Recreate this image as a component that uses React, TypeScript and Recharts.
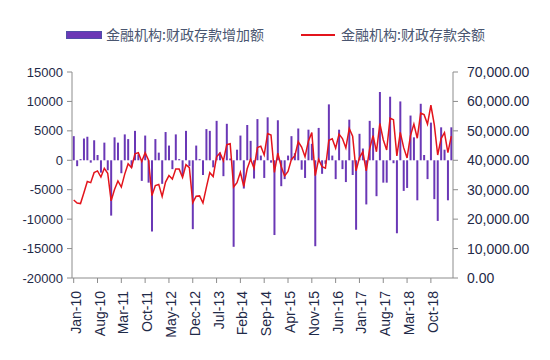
import React from "react";
import { ComposedChart, Bar, Line, XAxis, YAxis } from "recharts";

// month labels Jan-10 .. Apr-19
const monthNames = ["Jan", "Feb", "Mar", "Apr", "May", "Jun", "Jul", "Aug", "Sep", "Oct", "Nov", "Dec"];
const years = ["10", "11", "12", "13", "14", "15", "16", "17", "18", "19"];
const months = years.flatMap((y) => monthNames.map((m) => `${m}-${y}`)).slice(0, 112);

// 金融机构:财政存款增加额 (亿元)
const increase = [
  4100, -1000, 200, 3700, 4000, -400, 3400, 900, -2100, 3000, -1700, -9400,
  3900, 3000, -2200, 4400, 3600, -1200, 5000, 1000, -3500, 4200, -3800, -12100,
  3600, 1300, -4000, 4800, 2500, -1500, 4400, 200, -2600, 5000, -1000, -11700,
  2500, 200, -2500, 5300, 5000, -1200, 6700, 1300, -2700, 6200, 300, -14700,
  1800, 4200, -4800, 6000, 3300, -3100, 7000, 800, -3000, 7300, -400, -12700,
  6800, -4400, -3200, 800, 4100, 1200, 5400, -1600, -3000, 5200, 2800, -14600,
  5500, -2300, -600, 9500, 800, -3200, 5200, -1500, -3700, 6900, -2500, -11800,
  4500, 2000, -7500, 6700, 5500, -6100, 11600, -3800, -3800, 10800, -500, -12400,
  10000, -5200, -4700, 7600, 3900, -6800, 9600, 900, -3200, 6400, -6600, -10300,
  5600, 1800, -6800, 5600,
];

// 金融机构:财政存款余额 (亿元)
const balance = [
  26500, 25500, 25300, 29000, 32800, 32400, 35800, 36400, 34300, 37300, 35600, 26200,
  30100, 33000, 30900, 35300, 38800, 37500, 42200, 42600, 39600, 42600, 40000, 28000,
  31400, 31800, 27700, 32600, 34800, 33600, 37000, 37000, 34200, 38500, 37500, 25600,
  27800, 27900, 25500, 30800, 35800, 34500, 41200, 42500, 39800, 45300, 45600, 30900,
  32400, 35900, 31100, 37100, 40400, 37300, 44300, 44800, 41800, 49100, 48600, 35900,
  42400, 37900, 34700, 36200, 40300, 41500, 46300, 44500, 41200, 46600, 49400, 34800,
  40300, 37800, 37300, 46800, 47300, 44100, 48900, 47400, 44200, 50800, 48200, 36400,
  40900, 42900, 36400, 43900, 48400, 42900, 52500, 47000, 43500, 54300, 53800, 41500,
  49500, 44300, 40800, 48400, 52300, 47500, 56000, 55500, 52300, 58700, 52100, 41800,
  47400, 49400, 42600, 48200,
];

const leftTicks = [-20000, -15000, -10000, -5000, 0, 5000, 10000, 15000];
const rightTicks = [0, 10000, 20000, 30000, 40000, 50000, 60000, 70000];

const barName = "金融机构:财政存款增加额";
const lineName = "金融机构:财政存款余额";

const data = months.map((m, i) => ({ month: m, inc: increase[i], bal: balance[i] }));

const BAR = "#6a38b6";
const LINE = "#e3141c";
const AXIS = "#8c8c8c";
const TXT = "#1f2a48";
const FONT = "'Liberation Sans', Arial, sans-serif";

const XTick = (props: any) => {
  const { x, y, payload } = props;
  return (
    <g transform={`translate(${x + 7},${y + 8})`}>
      <text transform="rotate(-90)" textAnchor="end" fontSize={14} fill={TXT} fontFamily={FONT}>
        {payload.value}
      </text>
    </g>
  );
};

const fmtRight = (v: number) =>
  v.toLocaleString("en-US", { minimumFractionDigits: 2, maximumFractionDigits: 2 });

const LegendBox = () => (
  <div style={{ position: "absolute", left: 0, top: 24, height: 20, width: 550, fontFamily: "'Noto Sans CJK SC', sans-serif", fontSize: 14, color: "#4a5670" }}>
    <div style={{ position: "absolute", left: 66, top: 7, width: 36, height: 8, background: BAR, border: "1px solid #4f4fa8", boxSizing: "border-box" }} />
    <div style={{ position: "absolute", left: 106, top: 0, lineHeight: "20px", whiteSpace: "nowrap" }}>{barName}</div>
    <div style={{ position: "absolute", left: 301, top: 10, width: 34, height: 2, background: LINE }} />
    <div style={{ position: "absolute", left: 341, top: 0, lineHeight: "20px", whiteSpace: "nowrap" }}>{lineName}</div>
  </div>
);

export default function App() {
  return (
    <div style={{ position: "absolute", left: 0, top: 0, width: 550, height: 360, background: "#fff" }}>
      <LegendBox />
      <ComposedChart
        width={550}
        height={360}
        data={data}
        margin={{ top: 72, right: 0, bottom: 0, left: 0 }}
        barCategoryGap="22%"
      >
        <XAxis
          dataKey="month"
          interval={6}
          height={82}
          tick={<XTick />}
          tickSize={5}
          tickMargin={0}
          stroke={AXIS}
          tickLine={{ stroke: AXIS }}
        />
        <YAxis
          yAxisId="left"
          width={72}
          domain={[-20000, 15000]}
          ticks={leftTicks}
          interval={0}
          tickSize={5}
          tickMargin={4}
          stroke={AXIS}
          tick={{ fill: TXT, fontSize: 13, fontFamily: FONT }}
        />
        <YAxis
          yAxisId="right"
          orientation="right"
          width={97}
          domain={[0, 70000]}
          ticks={rightTicks}
          interval={0}
          tickFormatter={fmtRight}
          tickSize={5}
          tickMargin={9}
          stroke={AXIS}
          tick={{ fill: TXT, fontSize: 14, fontFamily: FONT }}
        />
        <Bar yAxisId="left" dataKey="inc" name={barName} fill={BAR} isAnimationActive={false} />
        <Line
          yAxisId="right"
          dataKey="bal"
          name={lineName}
          type="linear"
          stroke={LINE}
          strokeWidth={1.5}
          dot={false}
          isAnimationActive={false}
        />
      </ComposedChart>
    </div>
  );
}
